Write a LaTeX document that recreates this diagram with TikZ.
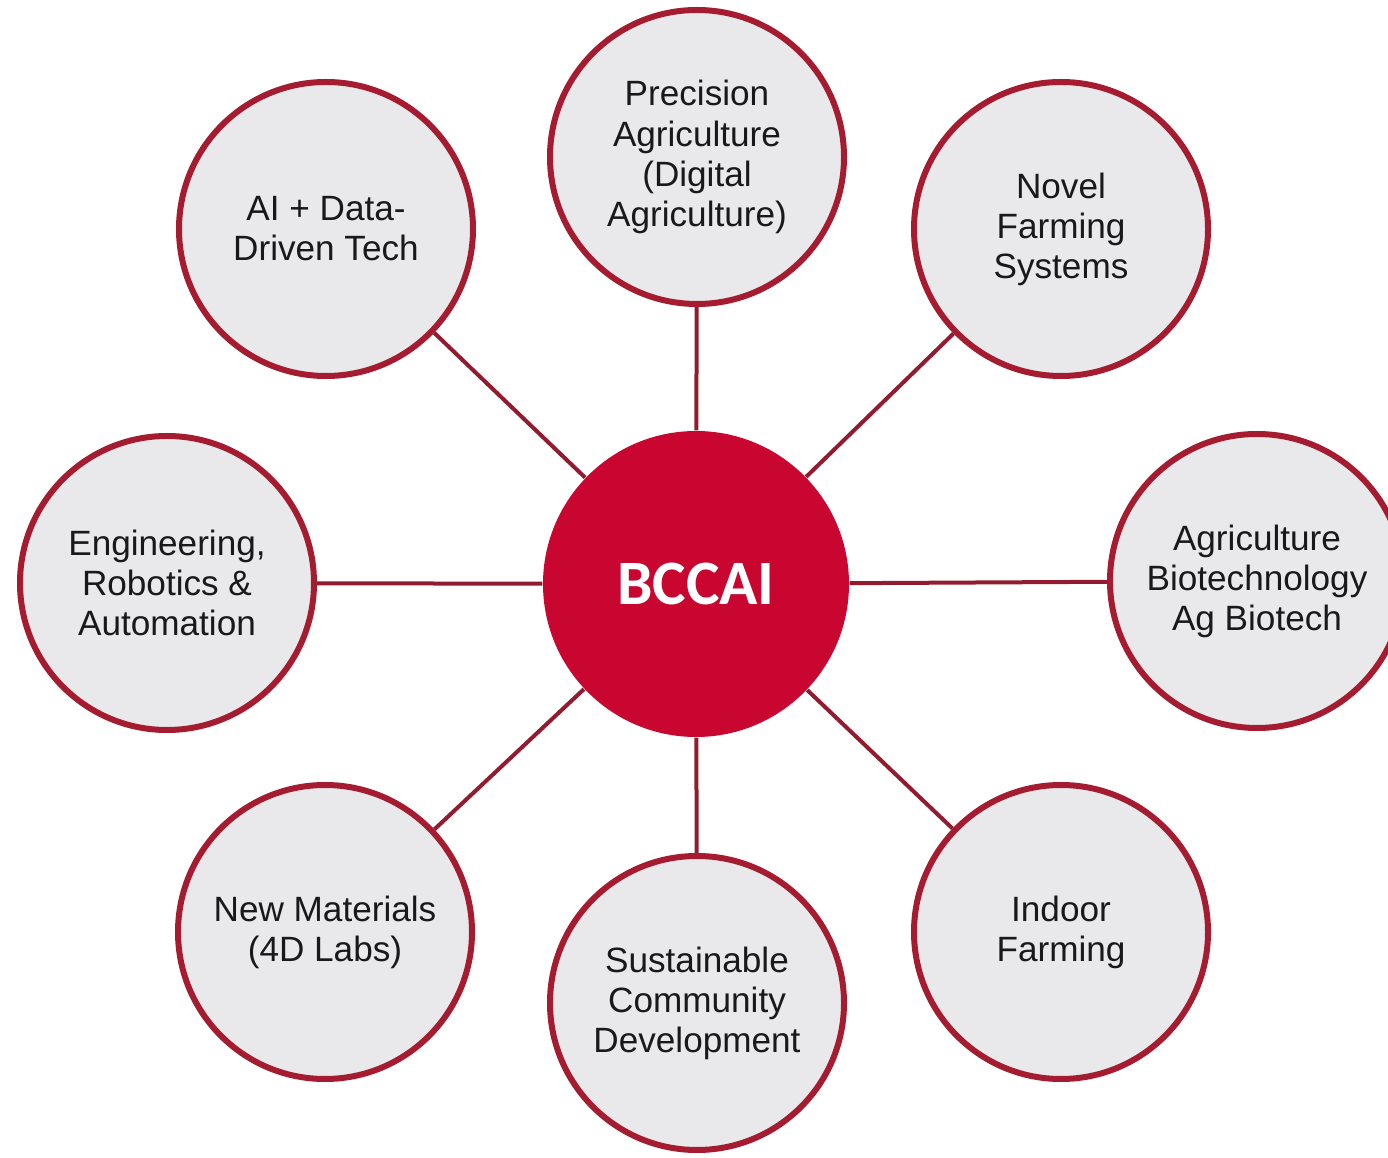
\documentclass[tikz,border=0pt]{standalone}
\usepackage{fontspec}
\setmainfont{Liberation Sans}
\newfontfamily\hubfont{Carlito}
\usepackage{xcolor}
\usepackage{tikz}
\usetikzlibrary{calc}

\definecolor{ringred}{HTML}{A51C30}
\definecolor{hubred}{HTML}{C8062F}
\definecolor{linkred}{HTML}{931B2F}
\definecolor{discgray}{HTML}{E9E9EB}

\begin{document}
\begin{tikzpicture}[
        topic/.style={circle, draw=ringred, line width=0.6mm, fill=discgray,
            minimum size=2.94cm, align=center, text=black!90,
            font=\fontsize{10}{11.4}\selectfont},
        hub/.style={circle, fill=hubred, minimum size=3.06cm, text=white,
            font=\hubfont\bfseries\fontsize{18}{20}\selectfont},
        link/.style={draw=linkred, line width=0.4mm}]
        \useasboundingbox (0,0) rectangle (13.88,11.57);

        % centre
        \node[hub] (hub) at (6.96, 5.73) {BCCAI};

        % top row
        \node[topic] (ai) at (3.26, 9.28) {AI + Data-\\Driven Tech};
        \node[topic] (prec) at (6.97, 10.00) {Precision\\Agriculture\\(Digital\\Agriculture)};
        \node[topic] (novel) at (10.61, 9.28) {Novel\\Farming\\Systems};

        % middle row
        \node[topic] (eng) at (1.67, 5.74) {Engineering,\\Robotics \&\\Automation};
        \node[topic] (agri) at (12.57, 5.76) {Agriculture\\Biotechnology\\Ag Biotech};

        % bottom row
        \node[topic] (mat) at (3.25, 2.25) {New Materials\\(4D Labs)};
        \node[topic] (sust) at (6.97, 1.54) {Sustainable\\Community\\Development};
        \node[topic] (indoor) at (10.61, 2.25) {Indoor\\Farming};

        % spokes
        \foreach \t in {ai, prec, novel, eng, agri, mat, sust, indoor}
            \draw[link] (hub) -- (\t);
    \end{tikzpicture}
\end{document}
